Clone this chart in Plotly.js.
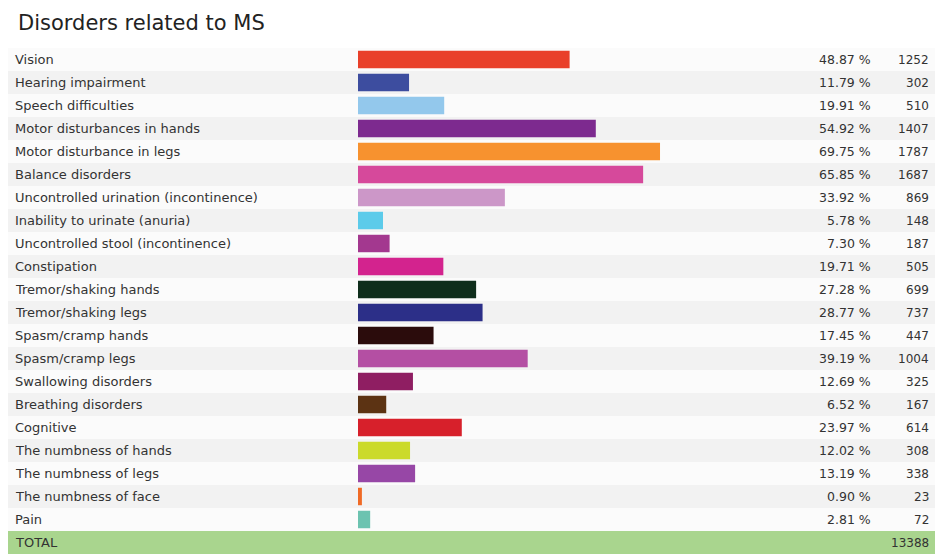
<!DOCTYPE html>
<html><head><meta charset="utf-8">
<script src="https://cdn.plot.ly/plotly-3.0.1.min.js"></script>
<style>html,body{margin:0;padding:0;background:#fff;}#chart{width:935px;height:554px;}</style>
</head><body><div id="chart"></div>
<script>
const categories = ["Vision","Hearing impairment","Speech difficulties","Motor disturbances in hands","Motor disturbance in legs","Balance disorders","Uncontrolled urination (incontinence)","Inability to urinate (anuria)","Uncontrolled stool (incontinence)","Constipation","Tremor/shaking hands","Tremor/shaking legs","Spasm/cramp hands","Spasm/cramp legs","Swallowing disorders","Breathing disorders","Cognitive","The numbness of hands","The numbness of legs","The numbness of face","Pain"];
const percents = [48.87,11.79,19.91,54.92,69.75,65.85,33.92,5.78,7.30,19.71,27.28,28.77,17.45,39.19,12.69,6.52,23.97,12.02,13.19,0.90,2.81];
const counts = [1252,302,510,1407,1787,1687,869,148,187,505,699,737,447,1004,325,167,614,308,338,23,72];
const totalLabel = "TOTAL";
const totalCount = 13388;
const colors = ["#e9402a","#3d4d9f","#93c8ec","#7d2a8f","#f7922f","#d6499b","#cc97c8","#5ccbea","#a3388f","#d3238e","#0f2e1c","#2c2f88","#2b0c0c","#b44fa3","#8f1e62","#5c3313","#d7202b","#cbda2b","#9747a6","#f06a25","#6cc3b0"];

const W = 935, H = 554;
const font = "DejaVu Sans, sans-serif";
const allCats = categories.concat([totalLabel]);

const shapes = [];
const annotations = [];
allCats.forEach((c, i) => {
  let fill = (i % 2 === 0) ? "#fbfbfb" : "#f2f2f2";
  if (c === totalLabel) fill = "#a9d58e";
  shapes.push({type:"rect", xref:"paper", yref:"y", x0: 8/W, x1: 1, y0: i-0.5, y1: i+0.5, fillcolor: fill, line:{width:0}, layer:"below"});
  annotations.push({xref:"paper", yref:"y", x: 13/W, y: c, text: c, showarrow:false, xanchor:"left", yanchor:"middle", font:{family:font, size:13, color:"#333"}});
});
categories.forEach((c, i) => {
  annotations.push({xref:"paper", yref:"y", x: 873/W, y: c, text: percents[i].toFixed(2) + " %", showarrow:false, xanchor:"right", yanchor:"middle", font:{family:font, size:12.5, color:"#333"}});
  annotations.push({xref:"paper", yref:"y", x: 931/W, y: c, text: String(counts[i]), showarrow:false, xanchor:"right", yanchor:"middle", font:{family:font, size:12, color:"#333"}});
});
annotations.push({xref:"paper", yref:"y", x: 931/W, y: totalLabel, text: String(totalCount), showarrow:false, xanchor:"right", yanchor:"middle", font:{family:font, size:12, color:"#333"}});
annotations.push({xref:"paper", yref:"paper", x: 16/W, y: 1 - 23/H, text: "Disorders related to MS", showarrow:false, xanchor:"left", yanchor:"middle", font:{family:font, size:21, color:"#222"}});

const trace = {type:"bar", orientation:"h", y: categories, x: percents, marker:{color: colors, line:{width:0}}, hoverinfo:"skip"};

const layout = {
  width: W, height: H,
  margin:{l:0, r:0, t:0, b:0},
  paper_bgcolor:"#fff", plot_bgcolor:"rgba(0,0,0,0)",
  showlegend:false,
  bargap: 0.24,
  xaxis:{domain:[358/W, 791/W], range:[0,100], showgrid:false, zeroline:false, showticklabels:false, ticks:"", showline:false},
  yaxis:{domain:[0, 506/H], type:"category", categoryorder:"array", categoryarray: allCats, range:[allCats.length-0.5, -0.5], showgrid:false, zeroline:false, showticklabels:false, ticks:"", showline:false},
  shapes: shapes,
  annotations: annotations
};
Plotly.newPlot("chart", [trace], layout, {staticPlot:true, displayModeBar:false});
</script></body></html>
